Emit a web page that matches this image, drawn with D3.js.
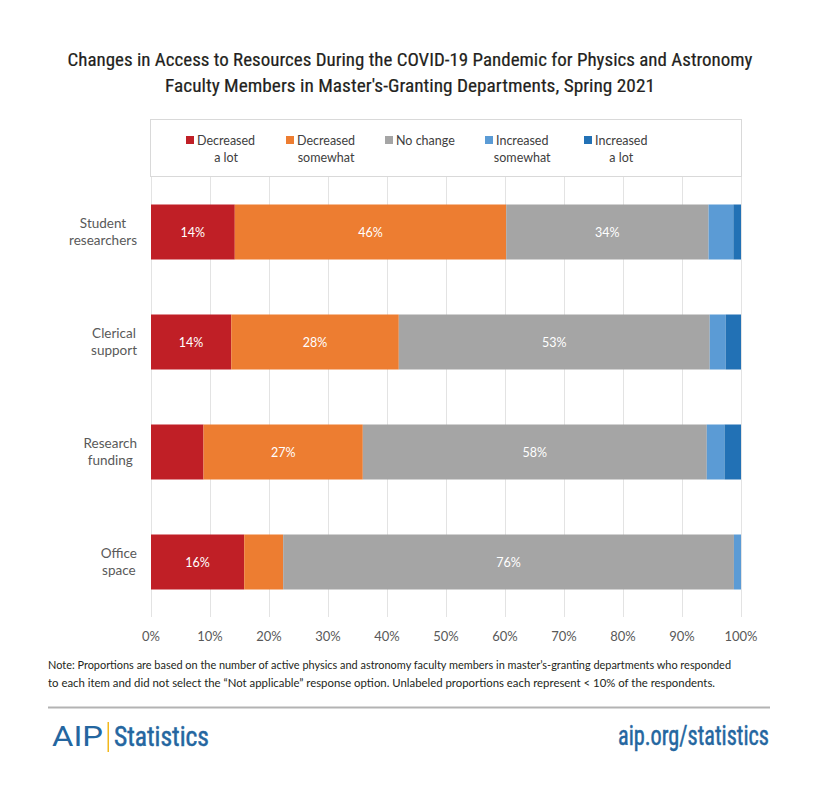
<!DOCTYPE html>
<html>
<head>
<meta charset="utf-8">
<script src="https://cdn.jsdelivr.net/npm/d3@7"></script>
<style>
  html, body { margin: 0; padding: 0; background: #fff; }
  svg { display: block; }
</style>
</head>
<body>
<svg id="chart" width="820" height="787"></svg>
<script>
// ---- data ----
const categories = [["Student", "researchers"], ["Clerical", "support"], ["Research", "funding"], ["Office", "space"]];
const seriesNames = [["Decreased", "a lot"], ["Decreased", "somewhat"], ["No change"], ["Increased", "somewhat"], ["Increased", "a lot"]];
const seriesColors = ["#C01F26", "#ED7D31", "#A5A5A5", "#5B9BD5", "#2271B5"];
const decreasedALot     = [14.2, 13.6, 8.9, 15.8];
const decreasedSomewhat = [46.0, 28.4, 27.0, 6.6];
const noChange          = [34.3, 52.7, 58.3, 76.4];
const increasedSomewhat = [4.2, 2.7, 3.0, 1.2];
const increasedALot     = [1.3, 2.6, 2.8, 0.0];
const tickValues = [0, 10, 20, 30, 40, 50, 60, 70, 80, 90, 100];

const seriesValues = [decreasedALot, decreasedSomewhat, noChange, increasedSomewhat, increasedALot];

const svg = d3.select("#chart");
const font = "Lato, 'Open Sans', sans-serif";
const condensed = "'Liberation Sans Narrow', 'Roboto Condensed', Roboto, sans-serif";

// title
const titleLines = [
  "Changes in Access to Resources During the COVID-19 Pandemic for Physics and Astronomy",
  "Faculty Members in Master's-Granting Departments, Spring 2021"
];
const titleWidths = [685, 490];
svg.selectAll("text.title").data(titleLines).join("text")
  .attr("class", "title")
  .attr("x", 410).attr("y", (d, i) => 66 + i * 26)
  .attr("text-anchor", "middle")
  .attr("font-family", condensed).attr("font-size", 19)
  .attr("fill", "#231f20").attr("stroke", "#231f20").attr("stroke-width", 0.2)
  .attr("textLength", (d, i) => titleWidths[i]).attr("lengthAdjust", "spacingAndGlyphs")
  .text(d => d);

// scales
const x = d3.scaleLinear().domain([0, 100]).range([151, 741]);
const y = d3.scaleBand().domain(d3.range(categories.length)).range([177, 617]).paddingInner(0.5).paddingOuter(0.25);

// legend box
svg.append("rect").attr("x", 150.5).attr("y", 119.5).attr("width", 591).attr("height", 57)
  .attr("fill", "#fff").attr("stroke", "#d9d9d9").attr("stroke-width", 1);

// gridlines
svg.append("g").selectAll("line").data(tickValues).join("line")
  .attr("x1", d => Math.round(x(d)) + 0.5).attr("x2", d => Math.round(x(d)) + 0.5)
  .attr("y1", 177).attr("y2", 617)
  .attr("stroke", "#e3e3e3").attr("stroke-width", 1);

// stacked bars
const stackData = categories.map((c, i) => {
  const o = { idx: i };
  seriesValues.forEach((s, k) => o["s" + k] = s[i]);
  return o;
});
const stack = d3.stack().keys(seriesValues.map((s, k) => "s" + k));
const stacked = stack(stackData);

const layers = svg.append("g").selectAll("g").data(stacked).join("g")
  .attr("fill", (d, k) => seriesColors[k]);
layers.selectAll("rect").data(d => d).join("rect")
  .attr("x", d => x(d[0]))
  .attr("y", d => y(d.data.idx))
  .attr("width", d => Math.max(0, x(d[1]) - x(d[0])))
  .attr("height", y.bandwidth());

// bar labels (only >= 10%)
layers.selectAll("text").data(d => d).join("text")
  .filter(d => (d[1] - d[0]) >= 10)
  .attr("x", d => (x(d[0]) + x(d[1])) / 2)
  .attr("y", d => y(d.data.idx) + y.bandwidth() / 2 + 4.5)
  .attr("text-anchor", "middle")
  .attr("font-family", font).attr("font-size", 12.5)
  .attr("fill", "#fff")
  .text(d => Math.round(d[1] - d[0]) + "%");

// x axis labels
svg.append("g").selectAll("text").data(tickValues).join("text")
  .attr("x", d => x(d)).attr("y", 641)
  .attr("text-anchor", "middle")
  .attr("font-family", font).attr("font-size", 13)
  .attr("fill", "#595959")
  .text(d => d + "%");

// category labels (centered lines, block right-aligned at 137)
categories.forEach((lines, i) => {
  const g = svg.append("g");
  const cy = y(i) + y.bandwidth() / 2;
  const texts = g.selectAll("text").data(lines).join("text")
    .attr("y", (d, j) => cy + (j - (lines.length - 1) / 2) * 17 + 4)
    .attr("text-anchor", "middle")
    .attr("font-family", font).attr("font-size", 13.5)
    .attr("fill", "#595959")
    .text(d => d);
  let maxW = 0;
  texts.each(function () { maxW = Math.max(maxW, this.getComputedTextLength()); });
  texts.attr("x", 137 - maxW / 2);
});

// legend items
const legendX = [186, 286, 385, 485, 584];
seriesNames.forEach((lines, k) => {
  const g = svg.append("g");
  g.append("rect").attr("x", legendX[k]).attr("y", 136).attr("width", 8).attr("height", 8)
    .attr("fill", seriesColors[k]);
  const first = g.append("text").attr("x", legendX[k] + 11).attr("y", 145)
    .attr("font-family", font).attr("font-size", 12.5).attr("fill", "#404040").text(lines[0]);
  if (lines.length > 1) {
    const w = first.node().getComputedTextLength();
    g.append("text").attr("x", legendX[k] + 11 + w / 2).attr("y", 162)
      .attr("text-anchor", "middle")
      .attr("font-family", font).attr("font-size", 12.5).attr("fill", "#404040").text(lines[1]);
  }
});

// note
const noteLines = [
  "Note: Proportions are based on the number of active physics and astronomy faculty members in master\u2019s-granting departments who responded",
  "to each item and did not select the \u201CNot applicable\u201D response option. Unlabeled proportions each represent < 10% of the respondents."
];
const noteWidths = [683, 667];
svg.selectAll("text.note").data(noteLines).join("text")
  .attr("class", "note")
  .attr("x", 48).attr("y", (d, i) => 669 + i * 18)
  .attr("font-family", font).attr("font-size", 11)
  .attr("fill", "#231f20")
  .attr("textLength", (d, i) => noteWidths[i]).attr("lengthAdjust", "spacingAndGlyphs")
  .text(d => d);

// rule
svg.append("line").attr("x1", 48).attr("x2", 770).attr("y1", 707.5).attr("y2", 707.5)
  .attr("stroke", "#b3b3b3").attr("stroke-width", 2);

// footer logo
const blue = "#2466A0";
svg.append("text").attr("x", 52).attr("y", 746)
  .attr("font-family", "Roboto, sans-serif").attr("font-size", 28).attr("font-weight", 400)
  .attr("fill", blue).attr("textLength", 51).attr("lengthAdjust", "spacingAndGlyphs").text("AIP");
svg.append("rect").attr("x", 107.5).attr("y", 722).attr("width", 1.5).attr("height", 30).attr("fill", "#F2B81C");
svg.append("text").attr("x", 114).attr("y", 746)
  .attr("font-family", condensed).attr("font-size", 27)
  .attr("fill", blue).attr("stroke", blue).attr("stroke-width", 0.5)
  .attr("textLength", 95).attr("lengthAdjust", "spacingAndGlyphs").text("Statistics");
svg.append("text").attr("x", 769).attr("y", 745)
  .attr("text-anchor", "end")
  .attr("font-family", condensed).attr("font-size", 27)
  .attr("fill", blue).attr("stroke", blue).attr("stroke-width", 0.5)
  .attr("textLength", 151).attr("lengthAdjust", "spacingAndGlyphs").text("aip.org/statistics");
</script>
</body>
</html>
